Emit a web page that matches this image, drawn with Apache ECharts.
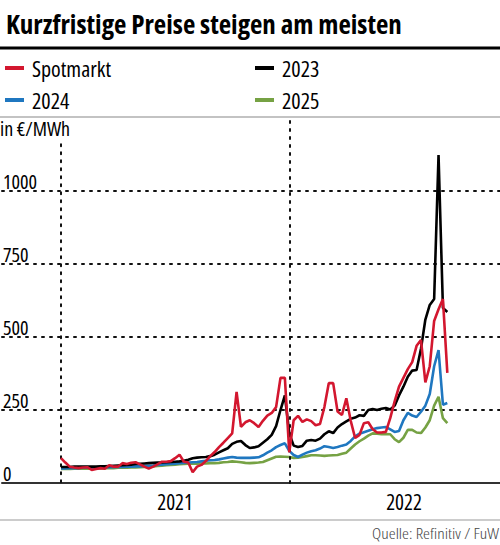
<!DOCTYPE html>
<html>
<head>
<meta charset="utf-8">
<script src="https://cdn.jsdelivr.net/npm/echarts@6/dist/echarts.min.js"></script>
<style>
html,body{margin:0;padding:0;background:#fff;}
#c{width:500px;height:545px;}
#c svg text{font-stretch:condensed !important;}
</style>
</head>
<body>
<div id="c"></div>
<script>
// Weekly observations starting 2021-01-01 (x = days since 2021-01-01)
const seriesNames = ['Spotmarkt', '2023', '2024', '2025'];
const yTicks = [0, 250, 500, 750, 1000];
const yearLabels = ['2021', '2022'];

const spot = [85,70,56,53,51,53,54,45,48,51,49,61,56,56,68,65,69,71,64,56,49,56,64,73,73,75,85,97,73,70,37,56,62,75,92,106,123,138,154,170,312,192,208,215,205,192,213,231,240,260,360,360,105,215,230,209,218,212,198,202,260,342,342,245,233,290,213,154,165,205,208,184,173,173,175,222,280,330,360,390,414,470,490,345,400,555,595,630,377];
const y2023 = [55,55,55,56,56,56,56,56,56,57,57,58,59,60,61,62,63,65,66,67,68,69,70,70,71,72,73,74,76,80,85,87,88,89,92,97,105,112,119,134,141,144,130,120,122,126,138,150,165,195,250,300,170,128,123,127,145,147,145,152,167,177,171,190,202,211,220,224,232,230,250,253,250,254,257,252,265,300,330,364,385,387,460,560,610,630,1123,600,586];
const y2024 = [50,50,51,51,51,52,52,52,52,53,53,54,54,55,55,56,56,57,57,58,59,60,62,63,64,65,66,68,69,70,71,72,74,76,78,79,81,84,87,89,87,86,86,86,87,88,95,104,112,123,130,136,110,96,89,97,104,109,112,118,126,123,120,123,128,132,144,160,169,174,179,184,188,190,192,184,175,178,215,240,231,226,244,265,305,400,455,268,274];
const y2025 = [48,48,48,49,49,49,49,50,50,50,51,51,51,52,52,52,53,53,54,55,56,57,58,59,61,62,63,64,65,66,66,66,67,67,68,68,69,71,72,74,73,71,69,68,69,70,72,78,84,90,91,90,89,86,87,89,92,95,95,94,93,94,95,96,100,104,118,132,143,152,162,170,169,167,168,167,150,140,155,182,182,173,171,190,215,265,295,222,205];

const weekStep = 7;
const days = spot.map((_, i) => i * weekStep);
const yearBoundaries = [0, 365];
const yearCenters = [182, 547];

const FONT = '"Open Sans",sans-serif';
const colors = {Spotmarkt:'#d3172f', '2023':'#000000', '2024':'#1f77c0', '2025':'#76a244'};
const dotted = {type:[2,6], width:2, color:'#111', cap:'round'};

function mk(name, vals, z){
  return {
    name, type:'line', data: days.map((d,i)=>[d, vals[i]]),
    showSymbol:false, symbol:'none', z,
    lineStyle:{width:2.6, color:colors[name]}, itemStyle:{color:colors[name]},
    emphasis:{disabled:true}
  };
}
function leg(name, left, top){
  return {data:[name], left, top, icon:'rect', itemWidth:19, itemHeight:4, selectedMode:false,
    textStyle:{fontFamily:FONT, fontSize:22, color:'#000', padding:[0,0,0,3]}};
}

const chart = echarts.init(document.getElementById('c'), null, {renderer:'svg'});
chart.setOption({
  animation:false,
  backgroundColor:'#fff',
  title:{
    text:'Kurzfristige Preise steigen am meisten', left:1, top:5,
    textStyle:{fontFamily:FONT, fontSize:27, fontWeight:'bold', color:'#000'}
  },
  legend:[
    leg(seriesNames[0], 0, 52), leg(seriesNames[1], 250, 52),
    leg(seriesNames[2], 0, 84), leg(seriesNames[3], 250, 84)
  ],
  grid:{left:0, right:0, top:121, bottom:62, containLabel:false},
  xAxis:{
    type:'value', min:-94, max:700,
    axisLine:{show:true, onZero:false, lineStyle:{color:'#333', width:2}},
    axisTick:{show:false},
    splitLine:{show:false},
    axisLabel:{customValues:yearCenters, margin:8, fontFamily:FONT, fontSize:21, color:'#000',
      formatter:v => v < 365 ? yearLabels[0] : yearLabels[1]}
  },
  yAxis:{
    type:'value', min:0, max:1240, interval:250,
    axisLine:{show:false}, axisTick:{show:false},
    splitLine:{show:true, showMinLine:false, showMaxLine:false, lineStyle:dotted},
    axisLabel:{inside:true, margin:1, verticalAlign:'bottom', padding:[0,0,0,0], fontFamily:FONT, fontSize:20, color:'#000',
      showMaxLabel:false, formatter:v => yTicks.indexOf(v) >= 0 ? String(v) : ''}
  },
  graphic:[
    {type:'rect', shape:{x:0, y:46.5, width:500, height:3}, style:{fill:'#000'}},
    {type:'rect', shape:{x:0, y:116.5, width:500, height:1}, style:{fill:'#888'}},
    {type:'rect', shape:{x:0, y:519.5, width:500, height:1}, style:{fill:'#999'}},
    {type:'text', x:0, y:118, style:{text:'in €/MWh', font:'20px '+FONT, fill:'#000'}},
    {type:'text', x:499, y:527, scaleX:1.25, style:{text:'Quelle: Refinitiv / FuW', align:'right', font:'300 14px "Open Sans",sans-serif', fill:'#444'}}
  ],
  series:[
    {type:'line', data:[], silent:true, z:1,
     markLine:{silent:true, symbol:['none','none'], label:{show:false}, lineStyle:dotted, emphasis:{disabled:true},
       data:[
         [{coord:[yearBoundaries[0],1160]},{coord:[yearBoundaries[0],0]}],
         [{coord:[yearBoundaries[1],1240]},{coord:[yearBoundaries[1],0]}]
       ]}},
    mk('2025', y2025, 3),
    mk('2024', y2024, 4),
    mk('2023', y2023, 5),
    mk('Spotmarkt', spot, 6)
  ]
});
</script>
</body>
</html>
